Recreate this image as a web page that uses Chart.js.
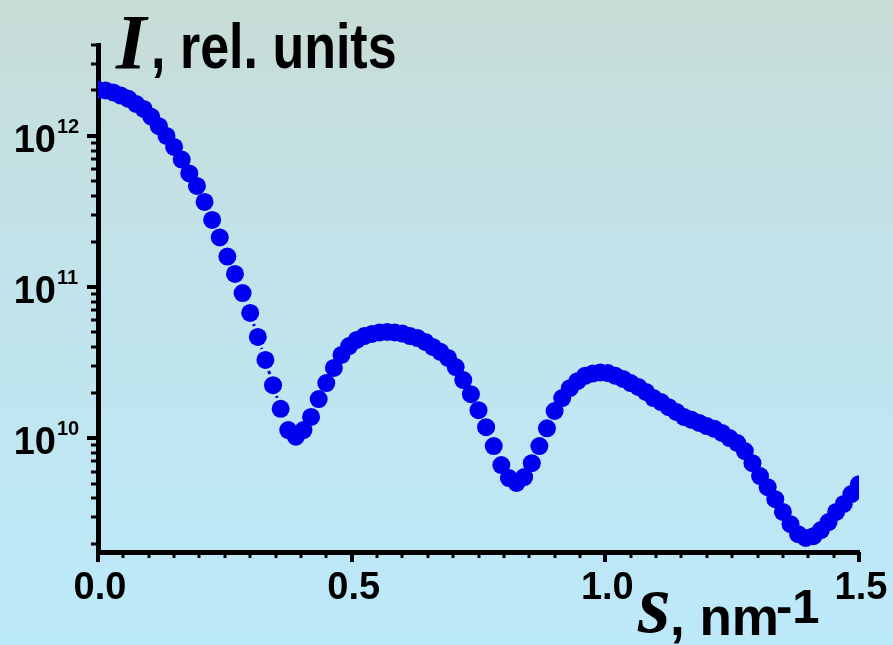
<!DOCTYPE html>
<html>
<head>
<meta charset="utf-8">
<script src="https://cdn.jsdelivr.net/npm/chart.js@4.4.1/dist/chart.umd.min.js"></script>
<style>
  html, body { margin: 0; padding: 0; background: #c2e3ec; }
  #wrap { width: 893px; height: 645px; position: relative; }
</style>
</head>
<body>
<div id="wrap"><canvas id="c" width="893" height="645"></canvas></div>
<script>
// Scattering vector s, nm^-1
const sValues = [
  0.000,0.015,0.030,0.045,0.060,0.075,0.090,0.105,0.120,0.135,
  0.150,0.165,0.180,0.195,0.210,0.225,0.240,0.255,0.270,0.285,
  0.300,0.315,0.330,0.345,0.360,0.375,0.390,0.405,0.420,0.435,
  0.450,0.465,0.480,0.495,0.510,0.525,0.540,0.555,0.570,0.585,
  0.600,0.615,0.630,0.645,0.660,0.675,0.690,0.705,0.720,0.735,
  0.750,0.765,0.780,0.795,0.810,0.825,0.840,0.855,0.870,0.885,
  0.900,0.915,0.930,0.945,0.960,0.975,0.990,1.005,1.020,1.035,
  1.050,1.065,1.080,1.095,1.110,1.125,1.140,1.155,1.170,1.185,
  1.200,1.215,1.230,1.245,1.260,1.275,1.290,1.305,1.320,1.335,
  1.350,1.365,1.380,1.395,1.410,1.425,1.440,1.455,1.470,1.485,
  1.500
];

// Scattered intensity I, rel. units
const intensity = [
  2.02e12,2.00e12,1.94e12,1.85e12,1.76e12,1.63e12,1.51e12,1.34e12,1.16e12,1.00e12,
  8.45e11,6.98e11,5.65e11,4.67e11,3.66e11,2.78e11,2.13e11,1.59e11,1.22e11,9.12e10,
  6.73e10,4.67e10,3.29e10,2.24e10,1.56e10,1.13e10,1.02e10,1.13e10,1.38e10,1.81e10,
  2.31e10,2.91e10,3.55e10,4.06e10,4.46e10,4.73e10,4.89e10,5.00e10,5.04e10,5.00e10,
  4.92e10,4.73e10,4.59e10,4.33e10,4.01e10,3.72e10,3.39e10,2.95e10,2.42e10,1.95e10,
  1.53e10,1.18e10,8.85e9,6.62e9,5.43e9,5.04e9,5.52e9,6.82e9,8.85e9,1.16e10,
  1.51e10,1.84e10,2.14e10,2.38e10,2.58e10,2.67e10,2.72e10,2.69e10,2.58e10,2.46e10,
  2.31e10,2.18e10,2.02e10,1.84e10,1.73e10,1.60e10,1.49e10,1.38e10,1.32e10,1.26e10,
  1.20e10,1.15e10,1.08e10,1.00e10,9.27e9,8.20e9,6.82e9,5.60e9,4.73e9,3.94e9,
  3.24e9,2.69e9,2.31e9,2.18e9,2.24e9,2.46e9,2.78e9,3.24e9,3.66e9,4.26e9,
  4.95e9
];

// Axis labelling
const xTickValues = [0.0, 0.5, 1.0, 1.5];
const xTickLabels = ['0.0', '0.5', '1.0', '1.5'];
const yDecadeExponents = [10, 11, 12];

const POINT_COLOR = '#0000f0';
const POINT_RADIUS = 9;
const SANS = '"Liberation Sans", Arial, sans-serif';
const SERIF = '"Liberation Serif", "Times New Roman", serif';

const points = sValues.map((s, i) => ({ x: s, y: intensity[i] }));

const decor = {
  id: 'decor',
  beforeDraw(chart) {
    const { ctx, width, height } = chart;
    const g = ctx.createLinearGradient(0, 0, 0, height);
    g.addColorStop(0.00, '#c8dcd6');
    g.addColorStop(0.35, '#c2e2e8');
    g.addColorStop(0.70, '#bfe6f2');
    g.addColorStop(1.00, '#bce9fa');
    ctx.save();
    ctx.fillStyle = g;
    ctx.fillRect(0, 0, width, height);
    ctx.restore();
  },
  // connecting line drawn only in the gaps between symbols
  afterDatasetsDraw(chart) {
    const { ctx, chartArea } = chart;
    const pts = chart.getDatasetMeta(0).data;
    const skip = POINT_RADIUS + 2.5;
    ctx.save();
    ctx.beginPath();
    ctx.rect(chartArea.left, chartArea.top, chartArea.right - chartArea.left, chartArea.bottom - chartArea.top);
    ctx.clip();
    ctx.strokeStyle = POINT_COLOR;
    ctx.lineWidth = 3;
    for (let i = 0; i < pts.length - 1; i++) {
      const a = pts[i], b = pts[i + 1];
      const dx = b.x - a.x, dy = b.y - a.y;
      const d = Math.hypot(dx, dy);
      if (d <= 2 * skip + 0.5) continue;
      const ux = dx / d, uy = dy / d;
      ctx.beginPath();
      ctx.moveTo(a.x + ux * skip, a.y + uy * skip);
      ctx.lineTo(b.x - ux * skip, b.y - uy * skip);
      ctx.stroke();
    }
    ctx.restore();
  },
  afterDraw(chart) {
    const { ctx, chartArea } = chart;
    const xs = chart.scales.x, ys = chart.scales.y;
    ctx.save();
    ctx.strokeStyle = '#000';
    ctx.fillStyle = '#000';
    ctx.lineCap = 'butt';

    // x tick marks: minor every 0.05, major every 0.5
    for (let k = 0; k <= 30; k++) {
      const v = k * 0.05;
      const px = Math.round(xs.getPixelForValue(v));
      const major = k % 10 === 0;
      ctx.lineWidth = major ? 4 : 3;
      ctx.beginPath();
      ctx.moveTo(px, chartArea.bottom);
      ctx.lineTo(px, chartArea.bottom + (major ? 10 : 6));
      ctx.stroke();
    }

    // y tick marks: 1..9 x 10^n
    for (let d = 9; d <= 12; d++) {
      for (let m = 1; m <= 9; m++) {
        const v = m * Math.pow(10, d);
        if (v < ys.min || v > ys.max) continue;
        const py = Math.round(ys.getPixelForValue(v));
        const major = m === 1;
        ctx.lineWidth = major ? 4 : 3;
        ctx.beginPath();
        ctx.moveTo(chartArea.left, py);
        ctx.lineTo(chartArea.left - (major ? 11 : 7), py);
        ctx.stroke();
      }
    }

    // x tick labels
    ctx.font = 'bold 38px ' + SANS;
    ctx.textAlign = 'center';
    ctx.textBaseline = 'alphabetic';
    xTickValues.forEach((v, i) => {
      const px = xs.getPixelForValue(v);
      ctx.fillText(xTickLabels[i], px + 2, chartArea.bottom + 47);
    });

    // y tick labels 10^n
    yDecadeExponents.forEach(e => {
      const py = ys.getPixelForValue(Math.pow(10, e));
      ctx.font = 'bold 38px ' + SANS;
      ctx.textAlign = 'right';
      ctx.fillText('10', 56, py + 16);
      ctx.font = 'bold 20px ' + SANS;
      ctx.textAlign = 'left';
      ctx.fillText(String(e), 57, py - 3);
    });

    // y axis title: I, rel. units
    ctx.textAlign = 'left';
    ctx.font = 'italic bold 78px ' + SERIF;
    ctx.fillText('I', 116, 68);
    ctx.save();
    ctx.translate(151, 68);
    ctx.scale(1, 1.22);
    ctx.font = 'bold 52px ' + SANS;
    ctx.fillText(', rel. units', 0, 0);
    ctx.restore();

    // x axis title: s, nm-1
    ctx.font = 'italic bold 84px ' + SERIF;
    ctx.fillText('s', 638, 632);
    ctx.font = 'bold 53px ' + SANS;
    ctx.fillText(', nm', 670, 635);
    ctx.font = 'bold 49px ' + SANS;
    ctx.fillText('-1', 776, 623);

    ctx.restore();
  }
};

new Chart(document.getElementById('c'), {
  type: 'scatter',
  data: {
    datasets: [{
      data: points,
      pointRadius: POINT_RADIUS,
      pointHoverRadius: POINT_RADIUS,
      pointBackgroundColor: POINT_COLOR,
      pointBorderWidth: 0,
      pointBorderColor: POINT_COLOR,
      showLine: false,
      clip: 0
    }]
  },
  options: {
    responsive: false,
    animation: false,
    events: [],
    layout: { padding: { left: 0, right: 34, top: 45, bottom: 0 } },
    plugins: { legend: { display: false }, tooltip: { enabled: false }, title: { display: false } },
    scales: {
      x: {
        type: 'linear',
        min: 0,
        max: 1.5,
        z: 1,
        grid: { display: false },
        ticks: { display: false },
        border: { display: true, color: '#000', width: 5 },
        afterFit(scale) { scale.height = 93; }
      },
      y: {
        type: 'logarithmic',
        min: 1.76e9,
        max: 4.0e12,
        z: 1,
        grid: { display: false },
        ticks: { display: false },
        border: { display: true, color: '#000', width: 5 },
        afterFit(scale) { scale.width = 98; }
      }
    }
  },
  plugins: [decor]
});
</script>
</body>
</html>
